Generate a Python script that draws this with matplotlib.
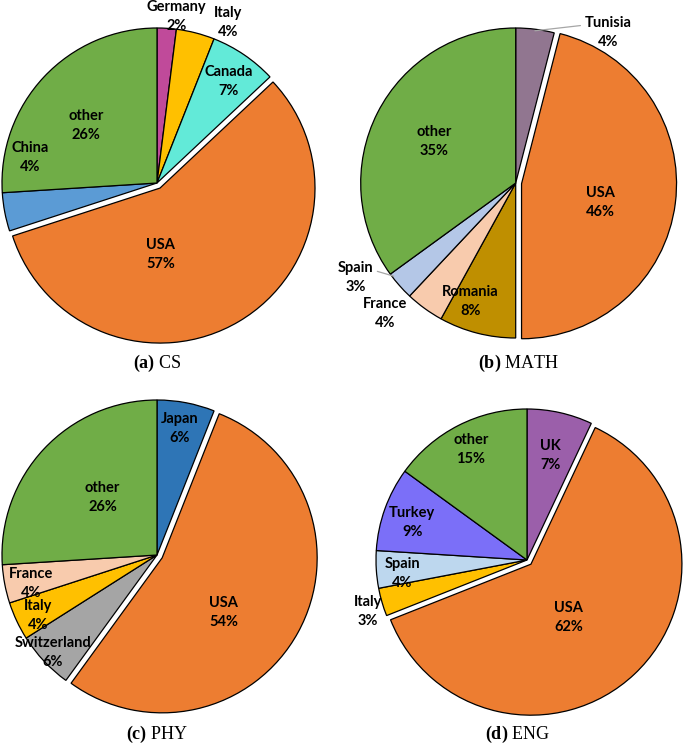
import numpy as np
import matplotlib
matplotlib.use("Agg")
import matplotlib.pyplot as plt

plt.rcParams["mathtext.fontset"] = "custom"
plt.rcParams["mathtext.rm"] = "Liberation Serif"
plt.rcParams["mathtext.bf"] = "Liberation Serif:bold"

# ------------------------------------------------------------------
# data
# ------------------------------------------------------------------

cs_labels = ["Germany", "Italy", "Canada", "USA", "China", "other"]
cs_values = [2, 4, 7, 57, 4, 26]

math_labels = ["Tunisia", "USA", "Romania", "France", "Spain", "other"]
math_values = [4, 46, 8, 4, 3, 35]

phy_labels = ["Japan", "USA", "Switzerland", "Italy", "France", "other"]
phy_values = [6, 54, 6, 4, 4, 26]

eng_labels = ["UK", "USA", "Italy", "Spain", "Turkey", "other"]
eng_values = [7, 62, 3, 4, 9, 15]

captions = ["(a)", "(b)", "(c)", "(d)"]
caption_names = ["CS", "MATH", "PHY", "ENG"]

# ------------------------------------------------------------------
# colours and label placement
# ------------------------------------------------------------------

ORANGE = "#ED7D31"
GREEN = "#70AD47"
GOLD = "#FFC000"

cs_colors = ["#C04A9A", GOLD, "#62EAD8", ORANGE, "#5B9BD5", GREEN]
math_colors = ["#917690", ORANGE, "#BF8F00", "#F8CBAD", "#B4C7E7", GREEN]
phy_colors = ["#2E75B6", ORANGE, "#A5A5A5", GOLD, "#F8CBAD", GREEN]
eng_colors = ["#9B5FAA", ORANGE, GOLD, "#BDD7EE", "#7B6FF8", GREEN]

# (radius fraction, angle nudge in degrees) per label
cs_place = [(1.08, -3), (1.135, -9.4), (0.80, -1), (0.43, -30), (0.835, -22), (0.59, 4)]
math_place = [(1.14, -24.3), (0.52, -6), (0.82, -6.4), (1.19, -9.1), (1.20, -10.9), (0.59, 0)]
phy_place = [(0.83, 0.5), (0.53, -13), (0.92, 0), (0.86, 1.6), (0.83, 1.8), (0.51, -3.3)]
eng_place = [(0.71, 0), (0.43, -8), (1.11, 1.8), (0.83, 2.4), (0.80, 1.5), (0.82, 0)]

# leader lines: label index -> (angle nudge at wedge edge, relpos on text)
math_leaders = {0: (0, (0.0, 0.72)), 4: (-4, (1.0, 0.72))}

W, H = 685, 745
fig = plt.figure(figsize=(W / 100, H / 100), dpi=100)

LIM = 1.35
LABEL_FONT = dict(family="Lato", fontweight="bold", fontsize=10.5, linespacing=1.45)


def draw_pie(cx, cy, R, labels, values, colors, place, leaders=None):
    side = 2 * LIM * R
    ax = fig.add_axes([(cx - LIM * R) / W, 1 - (cy + LIM * R) / H, side / W, side / H])
    explode = [0.038 if lab == "USA" else 0 for lab in labels]
    wedges, _ = ax.pie(values, colors=colors, explode=explode, startangle=90,
                       counterclock=False, radius=1,
                       wedgeprops=dict(edgecolor="black", linewidth=0.9))
    ax.set_xlim(-LIM, LIM)
    ax.set_ylim(-LIM, LIM)
    ax.set_aspect("equal")
    ax.axis("off")

    leaders = leaders or {}
    for i, (w, lab, val) in enumerate(zip(wedges, labels, values)):
        mid = (w.theta1 + w.theta2) / 2
        r, nudge = place[i]
        a = np.deg2rad(mid + nudge)
        x = w.center[0] + r * np.cos(a)
        y = w.center[1] + r * np.sin(a)
        text = f"{lab}\n{val}%"
        if i in leaders:
            lnudge, relpos = leaders[i]
            b = np.deg2rad(mid + lnudge)
            ax.annotate(text, xy=(0.99 * np.cos(b), 0.99 * np.sin(b)), xytext=(x, y),
                        ha="center", va="center", annotation_clip=False,
                        arrowprops=dict(arrowstyle="-", color="#A6A6A6", lw=0.9,
                                        relpos=relpos, shrinkA=1, shrinkB=0),
                        **LABEL_FONT)
        else:
            ax.text(x, y, text, ha="center", va="center", **LABEL_FONT)
    return ax


draw_pie(157, 183, 155, cs_labels, cs_values, cs_colors, cs_place)
draw_pie(515.7, 183, 155, math_labels, math_values, math_colors, math_place, math_leaders)
draw_pie(157, 555, 155, phy_labels, phy_values, phy_colors, phy_place)
draw_pie(527, 560, 151, eng_labels, eng_values, eng_colors, eng_place)

caption_pos = [(157, 363), (519, 363), (157, 734), (518, 734)]
for (px, py), tag, name in zip(caption_pos, captions, caption_names):
    fig.text(px / W, 1 - py / H, r"$\mathbf{" + tag + "}$ " + name,
             ha="center", va="center", family="Liberation Serif", fontsize=13)

fig.savefig("out.png", dpi=100)
